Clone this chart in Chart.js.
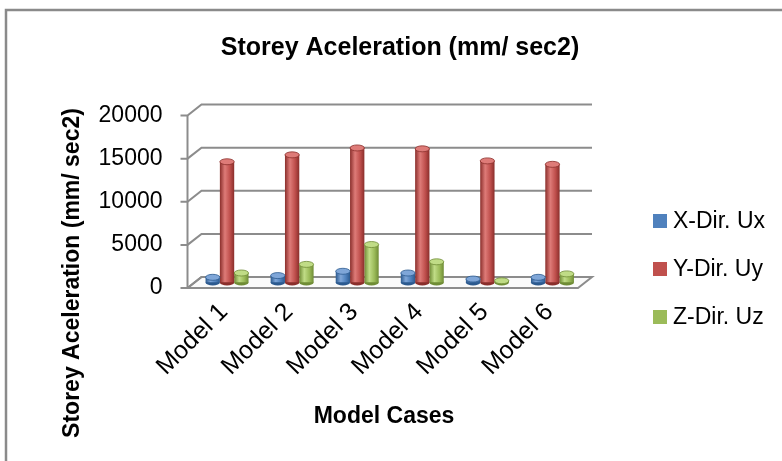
<!DOCTYPE html>
<html>
<head>
<meta charset="utf-8">
<script src="https://cdn.jsdelivr.net/npm/chart.js@4"></script>
<style>
  html, body { margin: 0; padding: 0; background: #fff; }
  #wrap { width: 782px; height: 461px; }
</style>
</head>
<body>
<div id="wrap"><canvas id="myChart" width="782" height="461"></canvas></div>
<script>
// data block
const labels = ["Model 1", "Model 2", "Model 3", "Model 4", "Model 5", "Model 6"];
const seriesNames = ["X-Dir. Ux", "Y-Dir. Uy", "Z-Dir. Uz"];
const xDir = [600, 800, 1300, 1100, 400, 600];
const yDir = [14000, 14800, 15600, 15500, 14100, 13700];
const zDir = [1100, 2100, 4400, 2400, 200, 1000];
const yTicks = [0, 5000, 10000, 15000, 20000];

const colors = ["#4F81BD", "#C0504D", "#9BBB59"];
const darks = ["#2c5a8f", "#8a2e2b", "#6f8c35"];
const lights = ["#7fa6d8", "#de7b78", "#c0dc86"];
const gridColor = "#8c8c8c";
const FONT = "'Liberation Sans', Arial, sans-serif";
const CAT_PCT = 0.66;
// fake 3D depth
const DX = 7, DY = 5.5;

// cylinder shading: horizontal gradient over each bar
function cyl(i) {
  return (ctx) => {
    const c = ctx.chart;
    const xs = c.scales.x;
    if (!c.chartArea || !xs || ctx.type !== "data") return colors[i];
    const cw = (xs.right - xs.left) / labels.length;
    const gw = cw * CAT_PCT, bw = gw / 3;
    const x0 = xs.getPixelForValue(ctx.dataIndex) - gw / 2 + ctx.datasetIndex * bw;
    const g = c.ctx.createLinearGradient(x0, 0, x0 + bw, 0);
    g.addColorStop(0, darks[i]);
    g.addColorStop(0.35, lights[i]);
    g.addColorStop(0.7, colors[i]);
    g.addColorStop(1, darks[i]);
    return g;
  };
}

const data = {
  labels: labels,
  datasets: [xDir, yDir, zDir].map((vals, i) => ({
    label: seriesNames[i],
    data: vals,
    backgroundColor: cyl(i),
    borderWidth: 0,
    categoryPercentage: CAT_PCT,
    barPercentage: 1.0,
  })),
};

// frame, walls, floor, legend, titles
const decor = {
  id: "decor",
  beforeDraw(chart) {
    const ctx = chart.ctx;
    ctx.save();
    ctx.fillStyle = "#fff";
    ctx.fillRect(0, 0, chart.width, chart.height);
    ctx.strokeStyle = "#8a8a8a";
    ctx.lineWidth = 2.5;
    ctx.beginPath();
    ctx.moveTo(6, chart.height);
    ctx.lineTo(6, 10);
    ctx.lineTo(chart.width, 10);
    ctx.stroke();
    ctx.restore();
  },
  beforeDatasetsDraw(chart) {
    const ctx = chart.ctx;
    const ys = chart.scales.y;
    const a = chart.chartArea;
    ctx.save();
    ctx.strokeStyle = gridColor;
    ctx.lineWidth = 2;
    // floor
    ctx.beginPath();
    ctx.moveTo(a.left - DX, a.bottom + DY);
    ctx.lineTo(a.right - DX, a.bottom + DY);
    ctx.lineTo(a.right + DX, a.bottom - DY);
    ctx.lineTo(a.left + DX, a.bottom - DY);
    ctx.closePath();
    ctx.fillStyle = "#fafafa";
    ctx.fill();
    ctx.stroke();
    // front axis line
    ctx.beginPath();
    ctx.moveTo(a.left - DX, a.top + DY);
    ctx.lineTo(a.left - DX, a.bottom + DY);
    ctx.stroke();
    yTicks.forEach((v) => {
      const y = ys.getPixelForValue(v);
      ctx.beginPath();
      ctx.moveTo(a.left - DX - 7, y + DY);
      ctx.lineTo(a.left - DX, y + DY);
      ctx.lineTo(a.left + DX, y - DY);
      if (v !== 0) ctx.lineTo(a.right + DX, y - DY);
      ctx.stroke();
    });
    // bottom caps of the cylinders
    chart.data.datasets.forEach((ds, i) => {
      chart.getDatasetMeta(i).data.forEach((el) => {
        ctx.beginPath();
        ctx.ellipse(el.x, el.base, el.width / 2, 3, 0, 0, Math.PI * 2);
        ctx.fillStyle = darks[i];
        ctx.fill();
      });
    });
    ctx.restore();
  },
  afterDatasetsDraw(chart) {
    const ctx = chart.ctx;
    ctx.save();
    chart.data.datasets.forEach((ds, i) => {
      chart.getDatasetMeta(i).data.forEach((el) => {
        ctx.beginPath();
        ctx.ellipse(el.x, el.y, el.width / 2, 3, 0, 0, Math.PI * 2);
        ctx.fillStyle = lights[i];
        ctx.fill();
        ctx.strokeStyle = darks[i];
        ctx.lineWidth = 0.8;
        ctx.stroke();
      });
    });
    ctx.restore();
  },
  afterDraw(chart) {
    const ctx = chart.ctx;
    ctx.save();
    ctx.fillStyle = "#000";
    // chart title
    ctx.font = "bold 25px " + FONT;
    ctx.textAlign = "center";
    ctx.textBaseline = "middle";
    ctx.fillText("Storey Aceleration (mm/ sec2)", 400, 48);
    // x axis title
    ctx.font = "bold 23px " + FONT;
    ctx.fillText("Model Cases", 384, 417);
    // legend
    ctx.font = "23px " + FONT;
    ctx.textAlign = "left";
    chart.data.datasets.forEach((ds, i) => {
      const cy = 221 + i * 48;
      ctx.fillStyle = colors[i];
      ctx.fillRect(653, cy - 7, 14, 14);
      ctx.fillStyle = "#000";
      ctx.fillText(ds.label, 673, cy + 1);
    });
    // y axis title
    ctx.translate(73, 273);
    ctx.rotate(-Math.PI / 2);
    ctx.font = "bold 23px " + FONT;
    ctx.textAlign = "center";
    ctx.fillText("Storey Aceleration (mm/ sec2)", 0, 0);
    ctx.restore();
  },
};

// config block
const config = {
  type: "bar",
  data: data,
  options: {
    responsive: false,
    animation: false,
    layout: { padding: { left: 0, right: 197, top: 110, bottom: 0 } },
    plugins: {
      legend: { display: false },
      tooltip: { enabled: false },
      title: { display: false },
    },
    scales: {
      x: {
        grid: { display: false, drawTicks: false },
        border: { display: false },
        ticks: {
          color: "#000",
          font: { family: FONT, size: 25 },
          minRotation: 45,
          maxRotation: 45,
          autoSkip: false,
          padding: 15,
          labelOffset: -3,
        },
        title: { display: false },
        afterFit: (s) => { s.height = 178.5; },
      },
      y: {
        min: 0,
        max: 20000,
        afterBuildTicks: (s) => { s.ticks = yTicks.map((v) => ({ value: v })); },
        grid: { display: false, drawTicks: false },
        border: { display: false },
        ticks: {
          color: "#000",
          font: { family: FONT, size: 23 },
          padding: 32,
          labelOffset: DY,
          callback: (v) => String(v),
        },
        afterFit: (s) => { s.width = 194.5; },
      },
    },
  },
  plugins: [decor],
};

// render init block
const myChart = new Chart(document.getElementById("myChart"), config);
</script>
</body>
</html>
